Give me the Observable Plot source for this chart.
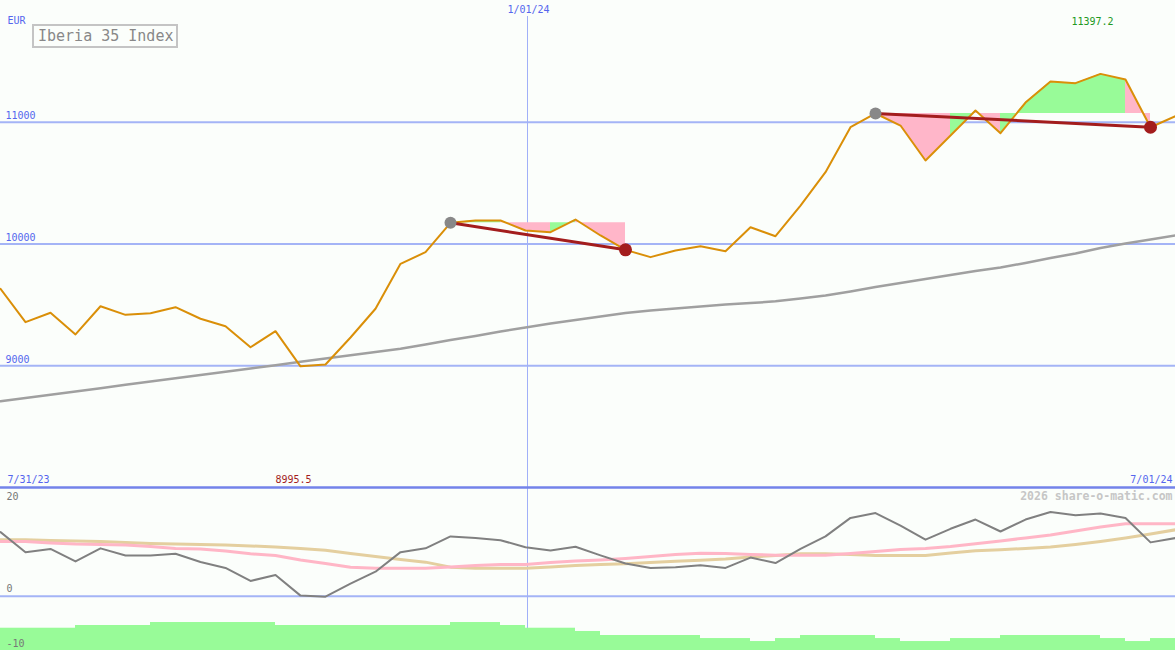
<!DOCTYPE html>
<html><head><meta charset="utf-8">
<script src="https://cdn.jsdelivr.net/npm/d3@7"></script>
<script src="https://cdn.jsdelivr.net/npm/@observablehq/plot@0.6"></script>
<style>
html,body{margin:0;padding:0;background:#fbfefb;}
#wrap{position:relative;width:1175px;height:650px;overflow:hidden;background:#fbfefb;}
#title{position:absolute;left:32px;top:24px;width:142px;height:20px;border:2px solid #c4c4c4;font:15px "DejaVu Sans Mono",monospace;color:#888;line-height:21px;text-indent:4px;white-space:nowrap;}
</style></head><body><div id="wrap"></div>
<script>
// ---- data (weekly) ----
const firstWeek = "2023-08-07";
const price = [9632, 9358, 9435, 9257, 9489, 9418, 9432, 9481, 9386, 9325, 9152, 9284, 8995.5, 9010, 9232, 9468,
  9837, 9933, 10174, 10193, 10193, 10111, 10097, 10201, 10070, 9952, 9892, 9947, 9982, 9941, 10138, 10064,
  10316, 10590, 10959, 11072, 10973, 10686, 10891, 11097, 10910, 11162, 11335, 11321, 11397.2, 11351, 10959, 11050];
const ma200 = [8709, 8736, 8762, 8789, 8816, 8844, 8870, 8897, 8924, 8951, 8978, 9005, 9032, 9059, 9086, 9112,
  9139, 9175, 9211, 9244, 9281, 9314, 9347, 9376, 9404, 9433, 9454, 9470, 9487, 9503, 9515, 9529,
  9552, 9577, 9610, 9647, 9680, 9712, 9745, 9778, 9807, 9844, 9885, 9922, 9967, 10004, 10037, 10070];
const momentum = [11.8, 8.1, 8.7, 6.4, 8.8, 7.5, 7.5, 7.8, 6.3, 5.2, 2.8, 3.9, 0.1, -0.1, 2.3, 4.5,
  8.1, 8.8, 11.0, 10.7, 10.3, 9.0, 8.4, 9.1, 7.5, 6.0, 5.2, 5.3, 5.7, 5.2, 7.1, 6.1,
  8.7, 11.0, 14.4, 15.3, 13.0, 10.4, 12.4, 14.1, 11.9, 14.1, 15.5, 14.9, 15.2, 14.4, 9.9, 10.7];
const momAvgFast = [10.07, 10.07, 9.79, 9.6, 9.52, 9.42, 9.15, 8.78, 8.69, 8.32, 7.8, 7.49, 6.66, 6.02, 5.34, 5.15,
  5.15, 5.15, 5.37, 5.65, 5.83, 5.83, 6.2, 6.48, 6.66, 6.94, 7.31, 7.68, 7.91, 7.86, 7.68, 7.55,
  7.55, 7.55, 7.86, 8.23, 8.6, 8.78, 9.15, 9.64, 10.16, 10.71, 11.26, 12.0, 12.74, 13.33, 13.33, 13.33];
const momAvgSlow = [10.38, 10.38, 10.25, 10.16, 10.07, 9.88, 9.7, 9.61, 9.52, 9.42, 9.24, 9.06, 8.78, 8.47, 7.86, 7.31,
  6.76, 6.26, 5.34, 5.15, 5.15, 5.15, 5.37, 5.65, 5.83, 5.96, 6.2, 6.44, 6.63, 6.85, 7.22, 7.49,
  7.8, 7.8, 7.68, 7.49, 7.49, 7.49, 7.95, 8.36, 8.54, 8.78, 9.06, 9.52, 10.07, 10.71, 11.45, 12.22];
const lowerBars = [-5.9, -5.9, -5.9, -5.4, -5.4, -5.4, -4.85, -4.85, -4.85, -4.85, -4.85, -5.4, -5.4, -5.4, -5.4, -5.4,
  -5.4, -5.4, -4.85, -4.85, -5.4, -5.9, -5.9, -6.5, -7.24, -7.24, -7.24, -7.24, -7.8, -7.8, -8.35, -7.8,
  -7.24, -7.24, -7.24, -7.8, -8.35, -8.35, -7.8, -7.8, -7.24, -7.24, -7.24, -7.24, -7.8, -8.35, -7.8];
const trendStart = [18, 35];
const trendEnd = [25, 46];
const trendFillDir = [
  ["up", "up", "down", "down", "up", "down", "down"],
  ["down", "down", "down", "up", "down", "up", "up", "up", "up", "up", "down"]
];
const upperGrid = [9000, 10000, 11000];
const lowerGrid = [0];
const lowerTop = [20];
const lowerOther = [0, -10];
const yearMark = "2024-01-01";
const yearLabel = "1/01/24";
const startLabel = "7/31/23";
const endLabel = "7/01/24";
const unitLabel = "EUR";
const titleText = "Iberia 35 Index";
const creditText = "2026 share-o-matic.com";

// ---- build ----
const t0 = new Date(firstWeek + "T00:00:00Z");
const dates = price.map((_, i) => d3.utcDay.offset(t0, 7 * i));
const rows = dates.map((d, i) => ({date: d, price: price[i], ma: ma200[i], mom: momentum[i], fast: momAvgFast[i], slow: momAvgSlow[i]}));
const barRows = lowerBars.map((v, i) => ({d1: dates[i], d2: dates[i + 1], v}));
const fillRows = [];
trendStart.forEach((s, r) => {
  const level = price[s];
  trendFillDir[r].forEach((dir, k) => {
    const i = s + k;
    fillRows.push({date: dates[i], y1: level, y2: price[i], z: i, dir});
    fillRows.push({date: dates[i + 1], y1: level, y2: price[i + 1], z: i, dir});
  });
});
const trendRows = trendStart.map((s, r) => ({x1: dates[s], y1: price[s], x2: dates[trendEnd[r]], y2: price[trendEnd[r]]}));
const maxIdx = d3.maxIndex(price);
const minIdx = d3.minIndex(price);
const mono = "DejaVu Sans Mono, monospace";
const blue = "#5566ee";
const txt = {fontSize: 10, fontFamily: mono, lineAnchor: "middle"};

const chart = Plot.plot({
  width: 1175, height: 650,
  marginTop: 0, marginRight: 0, marginBottom: 0, marginLeft: 0,
  style: {background: "#fbfefb", overflow: "visible"},
  x: {type: "utc", domain: [dates[0], dates[dates.length - 1]], range: [0, 1175], axis: null},
  y: {type: "linear", domain: [-10, 20, 8000, 12000], range: [650, 487, 487, 0], axis: null},
  marks: [
    Plot.ruleY(upperGrid, {stroke: "#a4b4f6", strokeWidth: 2}),
    Plot.ruleY(lowerGrid, {stroke: "#a4b4f6", strokeWidth: 2}),
    Plot.ruleX([new Date(yearMark + "T00:00:00Z")], {stroke: "#a0b0f8", strokeWidth: 1, insetTop: 16, dx: 2}),
    Plot.rect(barRows, {x1: "d1", x2: "d2", y1: -10, y2: "v", fill: "#98fb98"}),
    Plot.ruleY([20], {stroke: "#7383ea", strokeWidth: 2.5}),
    Plot.area(fillRows.filter(d => d.dir === "down"), {x1: "date", y1: "y1", y2: "y2", z: "z", fill: "#ffb6c9"}),
    Plot.area(fillRows.filter(d => d.dir === "up"), {x1: "date", y1: "y1", y2: "y2", z: "z", fill: "#98fb98"}),
    Plot.line(rows, {x: "date", y: "ma", stroke: "#a0a0a0", strokeWidth: 2.5}),
    Plot.line(rows, {x: "date", y: "price", stroke: "#da8f08", strokeWidth: 2}),
    Plot.link(trendRows, {x1: "x1", y1: "y1", x2: "x2", y2: "y2", stroke: "#a31d1d", strokeWidth: 3}),
    Plot.dot(trendStart, {x: i => dates[i], y: i => price[i], r: 6, fill: "#888", stroke: "none"}),
    Plot.dot(trendEnd, {x: i => dates[i], y: i => price[i], r: 6.5, fill: "#a31d1d", stroke: "none"}),
    Plot.line(rows, {x: "date", y: "slow", stroke: "#e4cf9f", strokeWidth: 3}),
    Plot.line(rows, {x: "date", y: "fast", stroke: "#ffb6c6", strokeWidth: 3}),
    Plot.line(rows, {x: "date", y: "mom", stroke: "#808080", strokeWidth: 2}),
    // texts
    Plot.text([unitLabel], {...txt, frameAnchor: "top-left", dx: 7, dy: 20, text: d => d, textAnchor: "start", fill: blue}),
    Plot.text(upperGrid, {...txt, y: d => d, frameAnchor: "left", dx: 5, dy: -6, text: d => String(d), textAnchor: "start", fill: blue}),
    Plot.text([new Date(yearMark + "T00:00:00Z")], {...txt, x: d => d, frameAnchor: "top", dx: 3, dy: 9, text: () => yearLabel, fill: blue}),
    Plot.text([maxIdx], {...txt, x: i => dates[i], frameAnchor: "top", dx: -8, dy: 21, text: i => d3.format(".1f")(price[i]), fill: "#229922"}),
    Plot.text([minIdx], {...txt, x: i => dates[i], y: () => 8000, dx: -7, dy: -8, text: i => d3.format(".1f")(price[i]), fill: "#a31d1d"}),
    Plot.text([startLabel], {...txt, y: () => 8000, frameAnchor: "left", dx: 7, dy: -8, text: d => d, textAnchor: "start", fill: blue}),
    Plot.text([endLabel], {...txt, y: () => 8000, frameAnchor: "right", dx: -3, dy: -8, text: d => d, textAnchor: "end", fill: blue}),
    Plot.text([creditText], {...txt, y: () => 20, frameAnchor: "right", dx: -3, dy: 9, text: d => d, textAnchor: "end", fill: "#c6c6c6", fontWeight: "bold", fontSize: 11.5}),
    Plot.text(lowerTop, {...txt, y: d => d, frameAnchor: "left", dx: 6, dy: 9, text: d => String(d), textAnchor: "start", fill: "#777"}),
    Plot.text(lowerOther, {...txt, y: d => d, frameAnchor: "left", dx: 6, dy: -7, text: d => String(d), textAnchor: "start", fill: "#777"})
  ]
});
const wrap = document.getElementById("wrap");
wrap.appendChild(chart);
const title = document.createElement("div");
title.id = "title";
title.textContent = titleText;
wrap.appendChild(title);
</script>
</body></html>
